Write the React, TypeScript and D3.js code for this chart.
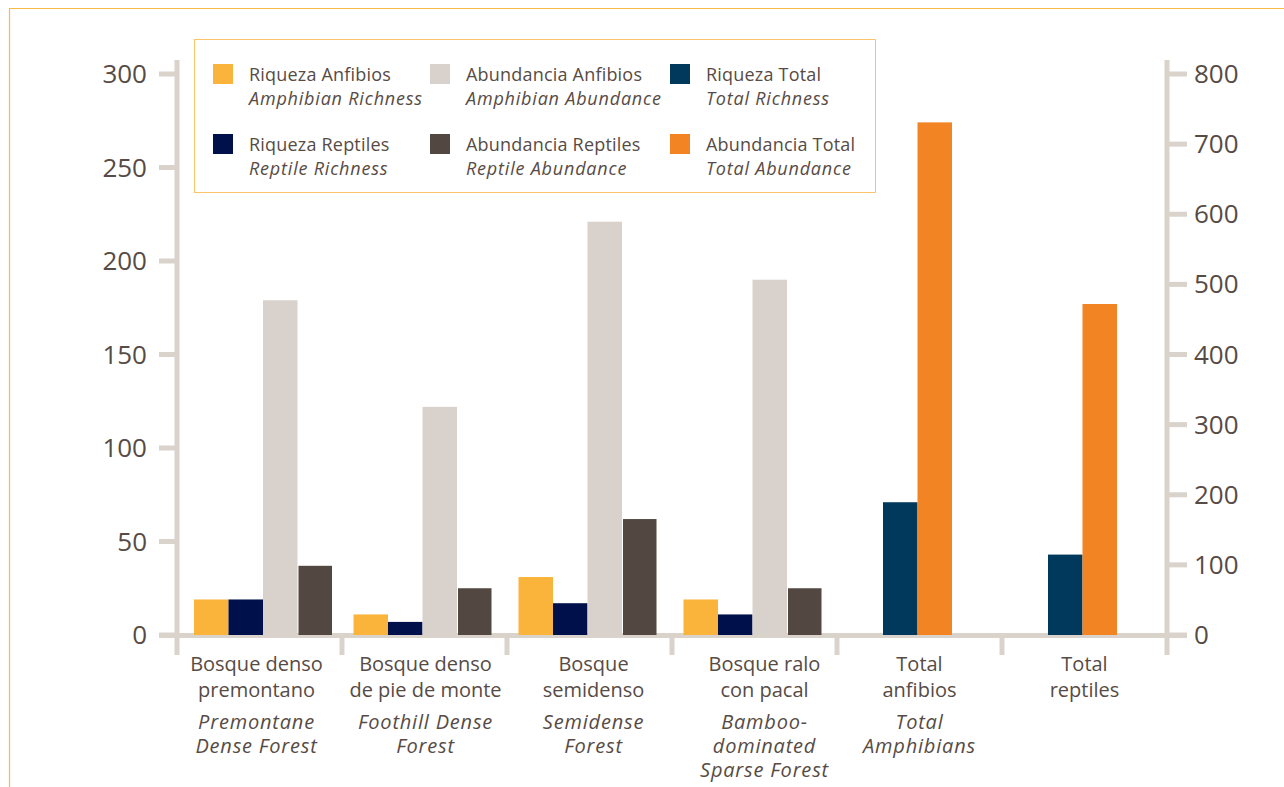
import React from "react";
import * as d3 from "d3";

const categories = [
  ["Bosque denso", "premontano"],
  ["Bosque denso", "de pie de monte"],
  ["Bosque", "semidenso"],
  ["Bosque ralo", "con pacal"],
  ["Total", "anfibios"],
  ["Total", "reptiles"],
];
const categoriesEn = [
  ["Premontane", "Dense Forest"],
  ["Foothill Dense", "Forest"],
  ["Semidense", "Forest"],
  ["Bamboo-", "dominated", "Sparse Forest"],
  ["Total", "Amphibians"],
  [],
];

// values (null = not present in that group)
const riquezaAnfibios = [19, 11, 31, 19, null, null];
const riquezaReptiles = [19, 7, 17, 11, null, null];
const abundanciaAnfibios = [179, 122, 221, 190, null, null];
const abundanciaReptiles = [37, 25, 62, 25, null, null];
const riquezaTotal = [null, null, null, null, 71, 43];
const abundanciaTotal = [null, null, null, null, 731, 472]; // right axis

const leftTicks = [0, 50, 100, 150, 200, 250, 300];
const rightTicks = [0, 100, 200, 300, 400, 500, 600, 700, 800];

const seriesKeys = ["ra", "rr", "aa", "ar", "rt", "at"];
const seriesColors = ["#FBB43B", "#00104A", "#D9D2CC", "#524741", "#01395C", "#F38423"];
const seriesValues = [riquezaAnfibios, riquezaReptiles, abundanciaAnfibios, abundanciaReptiles, riquezaTotal, abundanciaTotal];
const seriesAxis = ["left", "left", "left", "left", "left", "right"];
const legendEs = ["Riqueza Anfibios", "Riqueza Reptiles", "Abundancia Anfibios", "Abundancia Reptiles", "Riqueza Total", "Abundancia Total"];
const legendEn = ["Amphibian Richness", "Reptile Richness", "Amphibian Abundance", "Reptile Abundance", "Total Richness", "Total Abundance"];

const W = 1284;
const H = 787;
const TEXT = "#574B45";
const AXIS = "#D9D3CC";
const FONT = "'Open Sans', sans-serif";

export default function App() {
  const plotLeft = 177;
  const plotRight = 1167;
  const y0 = 635;
  const yTop = 74;
  const barW = 34.5;

  const x0 = d3.scaleBand<number>().domain(d3.range(categories.length)).range([plotLeft, plotRight]).padding(0);
  const yL = d3.scaleLinear().domain([0, 300]).range([y0, yTop]);
  const yR = d3.scaleLinear().domain([0, 800]).range([y0, yTop]);

  const bars: React.ReactNode[] = [];
  categories.forEach((_, ci) => {
    const present = seriesKeys.map((k, si) => si).filter((si) => seriesValues[si][ci] != null);
    const groupW = present.length * barW;
    const adj = ci === 0 ? 3.5 : -2;
    const start = x0(ci)! + (x0.bandwidth() - groupW) / 2 + adj;
    const x1 = d3.scaleBand<number>().domain(present).range([start, start + groupW]);
    present.forEach((si) => {
      const v = seriesValues[si][ci] as number;
      const sc = seriesAxis[si] === "right" ? yR : yL;
      const gap = seriesKeys[si] === "ar" ? 1 : 0;
      bars.push(
        <rect key={`${ci}-${si}`} x={x1(si)! + gap} y={sc(v)} width={x1.bandwidth() - gap} height={y0 - sc(v)} fill={seriesColors[si]} />
      );
    });
  });

  // legend layout: column-major 3 columns x 2 rows
  const legendCols = [213, 430, 670];
  const legendRows = [64, 134];
  const legendItems = seriesKeys.map((k, si) => {
    const col = Math.floor(si / 2);
    const row = si % 2;
    const lx = legendCols[col];
    const ly = legendRows[row];
    return (
      <g key={k}>
        <rect x={lx} y={ly} width={20} height={20} fill={seriesColors[si]} />
        <text x={lx + 36} y={ly + 17} fontSize={18} fill={TEXT} letterSpacing={0.2}>{legendEs[si]}</text>
        <text x={lx + 36} y={ly + 41} fontSize={18} fill={TEXT} fontStyle="italic" letterSpacing={0.8}>{legendEn[si]}</text>
      </g>
    );
  });

  const labelShift = [-3, 1, 4, 10, 0, 0];

  return (
    <div style={{ position: "absolute", left: 0, top: 0, width: W, height: H, background: "#fff" }}>
      <svg width={W} height={H} style={{ display: "block", fontFamily: FONT }}>
        <rect x={0} y={0} width={W} height={H} fill="#fff" />
        <path d={`M9.5,${H} V8.5 H${W}`} fill="none" stroke="#FBB948" strokeWidth={1.2} />

        {/* axes */}
        <line x1={plotLeft} x2={plotLeft} y1={60} y2={655} stroke={AXIS} strokeWidth={5} />
        <line x1={plotRight} x2={plotRight} y1={60} y2={655} stroke={AXIS} strokeWidth={5} />
        {leftTicks.map((t) => (
          <g key={`l${t}`}>
            <line x1={159} x2={plotLeft} y1={yL(t)} y2={yL(t)} stroke={AXIS} strokeWidth={5} />
            <text x={147} y={yL(t) + 9} fontSize={26} textAnchor="end" fill={TEXT}>{t}</text>
          </g>
        ))}
        {rightTicks.map((t) => (
          <g key={`r${t}`}>
            <line x1={plotRight} x2={1187} y1={yR(t)} y2={yR(t)} stroke={AXIS} strokeWidth={5} />
            <text x={1194} y={yR(t) + 9} fontSize={26} textAnchor="start" fill={TEXT}>{t}</text>
          </g>
        ))}
        {d3.range(1, categories.length).map((i) => (
          <line key={`s${i}`} x1={x0(i)} x2={x0(i)} y1={y0} y2={655} stroke={AXIS} strokeWidth={5} />
        ))}

        <line x1={159} x2={1187} y1={y0 + 0.5} y2={y0 + 0.5} stroke={AXIS} strokeWidth={5} />
        {bars}

        {/* category labels */}
        {categories.map((lines, ci) => {
          const cx = x0(ci)! + x0.bandwidth() / 2 + labelShift[ci];
          return (
            <g key={`c${ci}`}>
              {lines.map((ln, li) => (
                <text key={li} x={cx} y={671 + li * 26} fontSize={20} textAnchor="middle" fill={TEXT}>{ln}</text>
              ))}
              {categoriesEn[ci].map((ln, li) => (
                <text key={`e${li}`} x={cx} y={729 + li * 24} fontSize={20} textAnchor="middle" fill={TEXT} fontStyle="italic" letterSpacing={0.8}>{ln}</text>
              ))}
            </g>
          );
        })}

        {/* legend */}
        <rect x={194.5} y={39.5} width={681} height={153} fill="#fff" stroke="#FBC36A" strokeWidth={1} />
        {legendItems}
      </svg>
    </div>
  );
}
